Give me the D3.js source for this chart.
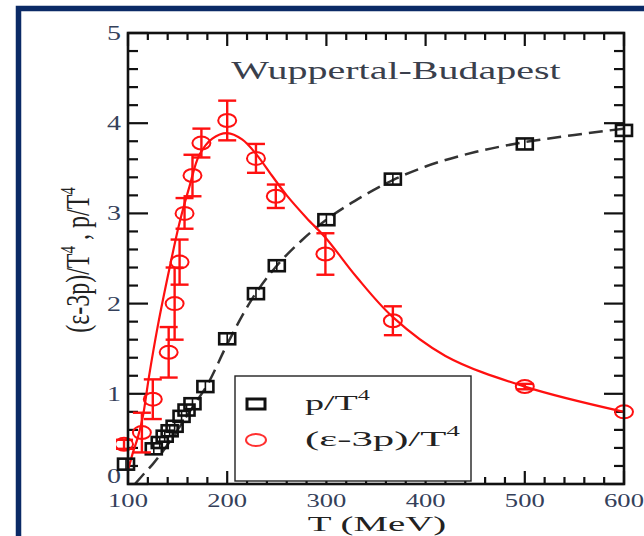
<!DOCTYPE html>
<html><head><meta charset="utf-8">
<script src="https://cdn.jsdelivr.net/npm/d3@7"></script>
<style>
html,body{margin:0;padding:0;background:#fff;}
text{font-family:"Liberation Serif","Times New Roman",serif;}
</style></head>
<body>
<svg id="chart" width="644" height="536"></svg>
<script>
// ---- data ----
const pressureT = [98,126,132,137,142,147,154,159,165,178,200,229,250,300,367,500,600];
const pressureV = [0.22,0.39,0.46,0.53,0.59,0.64,0.75,0.82,0.89,1.08,1.61,2.11,2.42,2.93,3.38,3.77,3.92];
const pressureFitT = [107,115,125,135,150,165,180,200,225,250,275,300,335,367,400,450,500,550,600];
const pressureFitV = [0.0,0.1,0.22,0.36,0.6,0.85,1.1,1.55,2.05,2.42,2.7,2.93,3.18,3.37,3.52,3.68,3.79,3.87,3.94];
const traceT = [96,114,125,141,147,152,157,165,174,200,229,249,299,367,500,600];
const traceV = [0.44,0.57,0.94,1.46,2.0,2.46,3.0,3.42,3.78,4.03,3.61,3.19,2.55,1.81,1.08,0.80];
const traceErr = [0.05,0.22,0.22,0.28,0.40,0.25,0.17,0.23,0.16,0.22,0.16,0.13,0.23,0.16,0.03,0.0];
const traceFitT = [100,105,110,115,121,130,142,152,162,172,185,200,215,229,245,260,280,300,330,367,420,500,600];
const traceFitV = [0.15,0.35,0.52,0.75,1.18,1.75,2.4,2.9,3.3,3.65,3.83,3.89,3.82,3.66,3.42,3.2,2.95,2.72,2.3,1.85,1.42,1.08,0.8];
const xTicks = [100,200,300,400,500,600];
const yTicks = [0,1,2,3,4,5];
const titleText = "Wuppertal-Budapest";
const legendLabels = ["p/T", "(ε-3p)/T"];

// ---- layout ----
const svg = d3.select("#chart");
const L = 128, R = 624, T = 33, B = 484;
const x = d3.scaleLinear().domain([100,600]).range([L,R]);
const y = d3.scaleLinear().domain([0,5]).range([B,T]);
const SX = 1.4; // horizontal stretch of the original figure

// slide frame
svg.append("rect").attr("x",18.5).attr("y",8.5).attr("width",700).attr("height",600)
  .attr("fill","#fff").attr("stroke","#0b2a66").attr("stroke-width",5.5);

svg.append("defs").append("clipPath").attr("id","clip")
  .append("rect").attr("x",L-12).attr("y",T).attr("width",R-L+24).attr("height",B-T);

// ticks (all four sides, inward)
const xMinor = d3.range(100,601,20);
const yMinor = d3.range(0,5.001,0.2);
const tk = svg.append("g").attr("stroke","#111").attr("stroke-width",2.2);
xMinor.forEach(v=>{
  const major = Math.abs(v%100)<1e-6;
  const len = major?13:7;
  tk.append("line").attr("x1",x(v)).attr("x2",x(v)).attr("y1",B).attr("y2",B-len);
  tk.append("line").attr("x1",x(v)).attr("x2",x(v)).attr("y1",T).attr("y2",T+len);
});
yMinor.forEach(v=>{
  const major = Math.abs(v-Math.round(v))<1e-6;
  const len = major?20:10;
  tk.append("line").attr("x1",L).attr("x2",L+len).attr("y1",y(v)).attr("y2",y(v));
  tk.append("line").attr("x1",R).attr("x2",R-len).attr("y1",y(v)).attr("y2",y(v));
});

// tick labels
const lblColor = "#34405a";
yTicks.forEach(v=>{
  const yy = v===0 ? y(v)-1 : y(v)+7;
  svg.append("text").attr("transform",`translate(121,${yy}) scale(${SX},1)`)
    .attr("text-anchor","end").attr("font-size",20).attr("fill",lblColor).text(v);
});
xTicks.forEach(v=>{
  svg.append("text").attr("transform",`translate(${x(v)},${507}) scale(${SX},1)`)
    .attr("text-anchor","middle").attr("font-size",19).attr("fill",lblColor).text(v);
});

// title
svg.append("text").attr("transform",`translate(396,79) scale(1.6,1)`)
  .attr("text-anchor","middle").attr("font-size",25).attr("fill","#3a3f4c").text(titleText);

// x label
svg.append("text").attr("transform",`translate(377,531) scale(1.85,1)`)
  .attr("text-anchor","middle").attr("font-size",21).attr("fill","#222").text("T (MeV)");

// y label
const yl = svg.append("text").attr("transform",`translate(89,260) rotate(-90) scale(1,${SX})`)
  .attr("text-anchor","middle").attr("font-size",24).attr("fill","#222");
yl.append("tspan").text("(ε-3p)/T");
yl.append("tspan").attr("dy",-10).attr("font-size",15).text("4");
yl.append("tspan").attr("dy",10).text(" , p/T");
yl.append("tspan").attr("dy",-10).attr("font-size",15).text("4");

// data layer
const data = svg.append("g").attr("clip-path","url(#clip)");

// pressure fit dashed
const lineP = d3.line().x((d,i)=>x(pressureFitT[i])).y(d=>y(d)).curve(d3.curveMonotoneX);
data.append("path").attr("d",lineP(pressureFitV)).attr("fill","none")
  .attr("stroke","#333").attr("stroke-width",2.5).attr("stroke-dasharray","14,7");

// trace anomaly fit
const lineE = d3.line().x((d,i)=>x(traceFitT[i])).y(d=>y(d)).curve(d3.curveCatmullRom.alpha(0.5));
data.append("path").attr("d",lineE(traceFitV)).attr("fill","none")
  .attr("stroke","#ff1010").attr("stroke-width",2.2);

// pressure squares
pressureT.forEach((t,i)=>{
  const cx = x(t), cy = y(pressureV[i]);
  data.append("rect").attr("x",cx-8).attr("y",cy-5.5).attr("width",16).attr("height",11)
    .attr("fill","none").attr("stroke","#111").attr("stroke-width",2.6);
  data.append("line").attr("x1",cx).attr("x2",cx).attr("y1",cy-5.5).attr("y2",cy+5.5)
    .attr("stroke","#111").attr("stroke-width",1.6);
});

// trace anomaly points with error bars
traceT.forEach((t,i)=>{
  const cx = x(t), cy = y(traceV[i]);
  const e = traceErr[i];
  if (e>0.02){
    const y1 = y(traceV[i]+e), y2 = y(traceV[i]-e);
    data.append("line").attr("x1",cx).attr("x2",cx).attr("y1",y1).attr("y2",y2)
      .attr("stroke","#ff1010").attr("stroke-width",2.4);
    [y1,y2].forEach(yy=>data.append("line").attr("x1",cx-9).attr("x2",cx+9).attr("y1",yy).attr("y2",yy)
      .attr("stroke","#ff1010").attr("stroke-width",2.4));
  }
  data.append("ellipse").attr("cx",cx).attr("cy",cy).attr("rx",9).attr("ry",6.5)
    .attr("fill","none").attr("stroke","#ff1010").attr("stroke-width",2);
});

// frame
svg.append("rect").attr("x",L).attr("y",T).attr("width",R-L).attr("height",B-T)
  .attr("fill","none").attr("stroke","#111").attr("stroke-width",2.6);

// legend
const lg = svg.append("g");
lg.append("rect").attr("x",235).attr("y",376).attr("width",236).attr("height",105)
  .attr("fill","#fff").attr("stroke","#222").attr("stroke-width",1.4);
lg.append("rect").attr("x",247).attr("y",399).attr("width",18).attr("height",10)
  .attr("fill","none").attr("stroke","#111").attr("stroke-width",3);
lg.append("ellipse").attr("cx",256).attr("cy",440).attr("rx",10).attr("ry",6)
  .attr("fill","none").attr("stroke","#ff3030").attr("stroke-width",2);
const legendY = [410, 446];
const legendW = [65, 155];
legendLabels.forEach((lab,i)=>{
  const t = lg.append("text").attr("font-size",22).attr("fill","#222");
  t.append("tspan").text(lab);
  t.append("tspan").attr("dy",-10).attr("font-size",14).text("4");
  const n = t.node().getComputedTextLength();
  t.attr("transform",`translate(305,${legendY[i]}) scale(${legendW[i]/n},1)`);
});
</script>
</body></html>
